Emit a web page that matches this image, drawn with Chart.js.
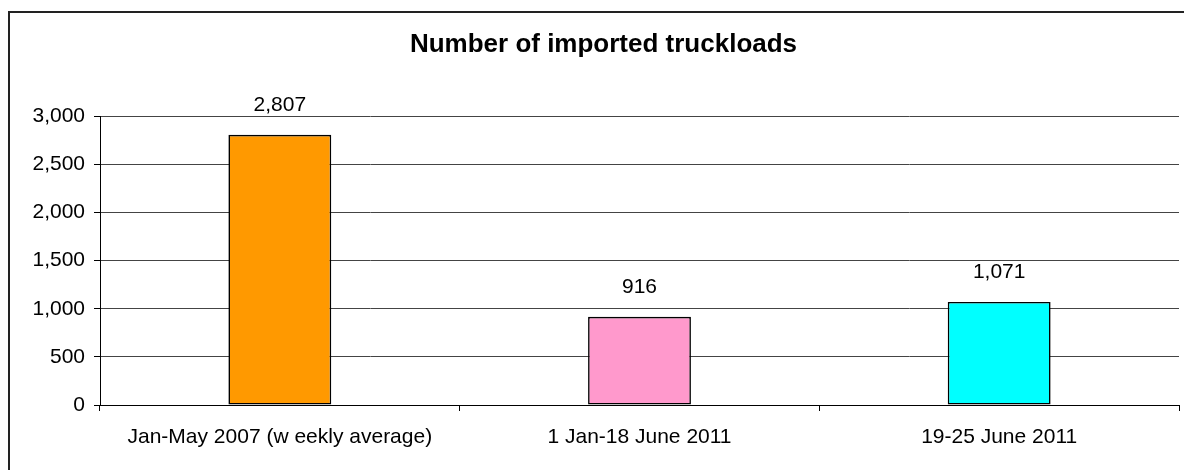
<!DOCTYPE html>
<html>
<head>
<meta charset="utf-8">
<title>Number of imported truckloads</title>
<script src="https://cdn.jsdelivr.net/npm/chart.js@4.4.0/dist/chart.umd.min.js"></script>
<style>
  html, body { margin: 0; padding: 0; background: #fff; overflow: hidden; }
  #wrap { width: 1184px; height: 470px; }
</style>
</head>
<body>
<div id="wrap"><canvas id="truckChart" width="1184" height="470"></canvas></div>
<script>
const categories = ["Jan-May 2007 (w eekly average)", "1 Jan-18 June 2011", "19-25 June 2011"];
const truckloads = [2807, 916, 1071];
const barColors = ["#FF9900", "#FF99CC", "#00FFFF"];
const yTicks = [0, 500, 1000, 1500, 2000, 2500, 3000];

const fontFamily = "'Liberation Sans', Arial, sans-serif";
const fmt = (v) => Number(v).toLocaleString("en-US");

// white background + outer frame (right/bottom edges are cut off in the picture)
const framePlugin = {
  id: "frame",
  beforeDraw(chart) {
    const ctx = chart.ctx;
    ctx.save();
    ctx.fillStyle = "#fff";
    ctx.fillRect(0, 0, chart.width, chart.height);
    ctx.strokeStyle = "#222";
    ctx.lineWidth = 2;
    ctx.beginPath();
    ctx.moveTo(9, chart.height + 5);
    ctx.lineTo(9, 12);
    ctx.lineTo(chart.width + 5, 12);
    ctx.stroke();
    ctx.restore();
  }
};

// value labels above bars
const valueLabels = {
  id: "valueLabels",
  afterDatasetsDraw(chart) {
    const ctx = chart.ctx;
    const meta = chart.getDatasetMeta(0);
    ctx.save();
    ctx.font = "21px " + fontFamily;
    ctx.fillStyle = "#000";
    ctx.textAlign = "center";
    ctx.textBaseline = "middle";
    meta.data.forEach((bar, i) => {
      ctx.fillText(fmt(chart.data.datasets[0].data[i]), bar.x, bar.y - 30);
    });
    ctx.restore();
  }
};

new Chart(document.getElementById("truckChart"), {
  type: "bar",
  data: {
    labels: categories,
    datasets: [{
      data: truckloads,
      backgroundColor: barColors,
      borderColor: "#000",
      borderWidth: 1.6,
      borderSkipped: false,
      barPercentage: 0.286,
      categoryPercentage: 1
    }]
  },
  options: {
    responsive: false,
    animation: false,
    layout: { padding: { left: 28, right: 5, top: 0, bottom: 0 } },
    plugins: {
      legend: { display: false },
      tooltip: { enabled: false },
      title: {
        display: true,
        text: "Number of imported truckloads",
        color: "#000",
        font: { family: fontFamily, size: 26, weight: "bold" },
        padding: { top: 29, bottom: 56 }
      }
    },
    scales: {
      x: {
        afterFit(scale) { scale.height = 65; },
        border: { color: "#000", width: 1 },
        grid: {
          offset: true,
          drawOnChartArea: false,
          drawTicks: true,
          tickLength: 6,
          color: "#000"
        },
        ticks: {
          color: "#000",
          padding: 14,
          maxRotation: 0,
          font: { family: fontFamily, size: 21 }
        }
      },
      y: {
        min: 0,
        max: 3000,
        afterFit(scale) { scale.width = 72; },
        afterBuildTicks(scale) { scale.ticks = yTicks.map((v) => ({ value: v })); },
        border: { color: "#000", width: 1 },
        grid: {
          color: "#444",
          lineWidth: 1,
          tickLength: 6,
          tickColor: "#000"
        },
        ticks: {
          color: "#000",
          padding: 9,
          font: { family: fontFamily, size: 21 },
          callback: (v) => fmt(v)
        }
      }
    }
  },
  plugins: [framePlugin, valueLabels]
});
</script>
</body>
</html>
